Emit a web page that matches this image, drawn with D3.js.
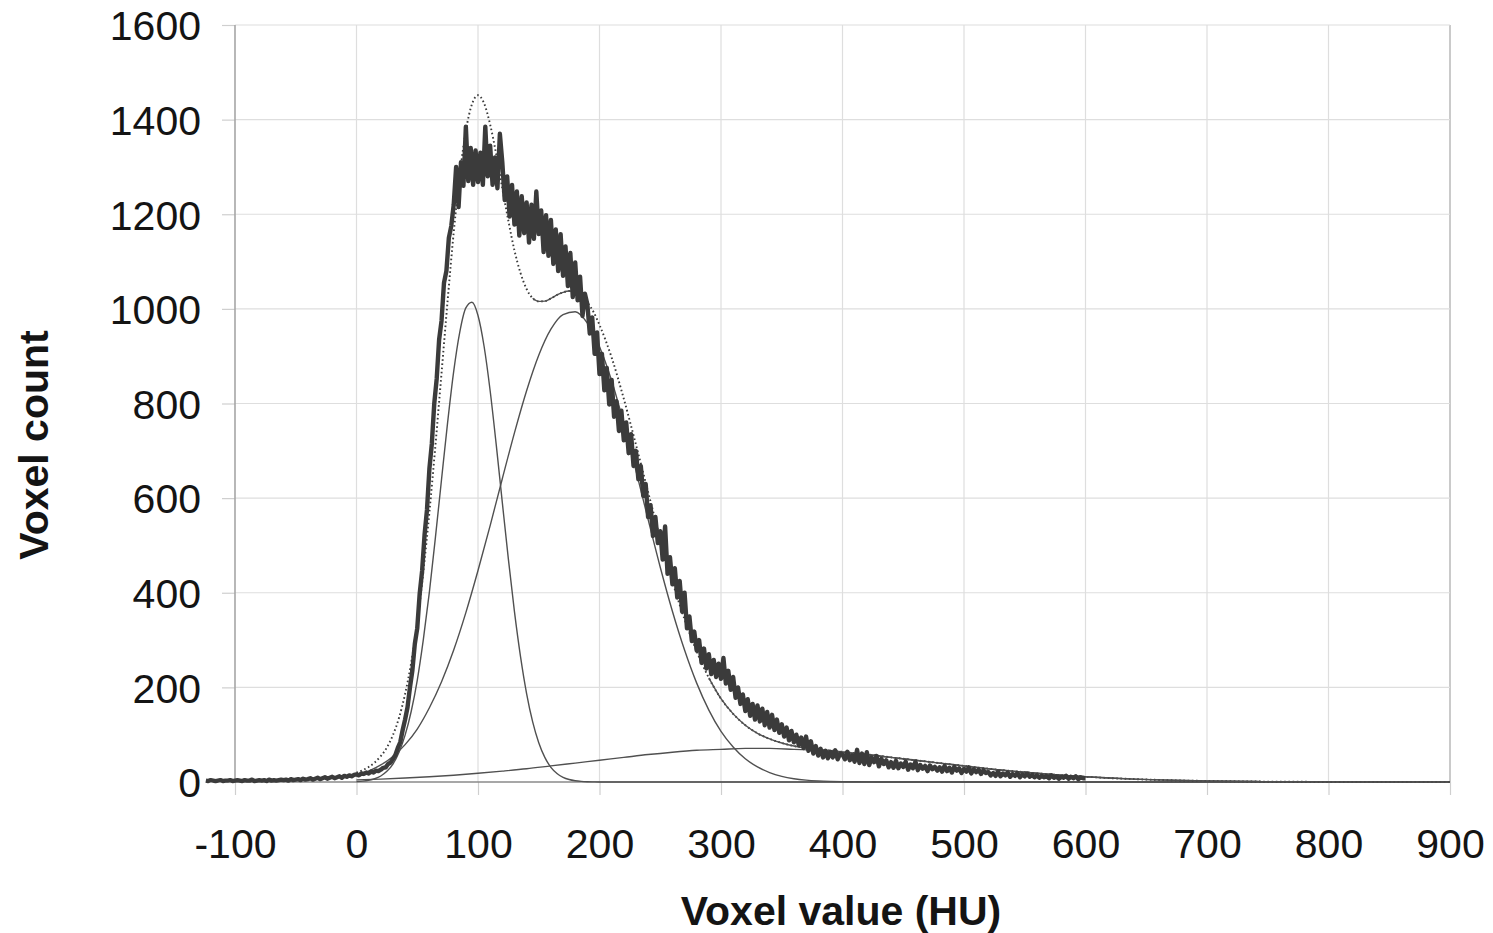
<!DOCTYPE html>
<html>
<head>
<meta charset="utf-8">
<script src="https://cdn.jsdelivr.net/npm/d3@7"></script>
<style>
  body { margin: 0; background: #fff; }
  svg text { font-family: "Liberation Sans", Arial, sans-serif; fill: #141414; }
</style>
</head>
<body>
<svg id="chart" width="1493" height="933"></svg>
<script>
// axis ticks
const xTicks = [-100, 0, 100, 200, 300, 400, 500, 600, 700, 800, 900];
const yTicks = [0, 200, 400, 600, 800, 1000, 1200, 1400, 1600];

// measured histogram: one count every 2 HU, starting at -124 HU
const histStart = -124;
const histStep = 2;
const histCounts = [
  3,2,4,3,2,3,4,2,3,3,4,2,3,4,3,2,4,3,3,5,2,3,4,3,4,2,5,3,4,3,4,5,
  4,5,3,6,4,5,6,4,7,5,6,8,5,7,9,6,8,10,7,9,11,8,10,12,9,13,11,14,12,15,
  16,14,18,17,20,18,22,20,24,23,26,30,31,38,41,49,57,72,84,110,
  132,158,200,236,292,325,398,446,522,575,662,715,800,852,935,975,1055,1080,1150,1175,
  1220,1300,1215,1310,1260,1385,1270,1340,1262,1335,1268,1330,1262,1385,1280,1345,1262,1320,1255,1370,
  1310,1230,1280,1195,1262,1178,1248,1155,1238,1160,1225,1140,1220,1148,1248,1158,1208,1120,1198,1112,
  1188,1095,1168,1080,1158,1070,1132,1048,1118,1025,1098,1018,1068,985,1032,1010,948,982,905,950,
  862,905,828,875,798,850,772,805,742,785,722,760,695,735,668,700,640,668,605,630,
  560,585,520,560,505,530,470,540,440,475,418,452,390,425,360,400,325,350,298,318,
  278,300,252,282,240,270,228,258,222,250,218,262,208,235,195,222,178,200,165,185,
  150,175,140,165,132,162,128,155,120,148,115,142,110,132,104,122,96,115,88,108,
  84,100,78,94,72,96,66,86,60,76,56,70,52,66,50,64,52,67,48,60,
  58,48,64,46,56,43,68,40,60,38,63,36,52,42,55,33,49,38,46,31,
  42,30,45,29,39,32,43,26,37,29,43,25,36,28,34,23,35,27,32,24,
  31,22,34,23,30,20,32,24,29,19,28,22,31,18,27,21,26,17,25,19,
  21,14,19,13,22,12,18,14,20,11,17,13,19,10,16,12,18,11,15,10,
  14,9,13,10,12,8,14,9,12,7,11,9,13,7,11,8,12,6,10,8,8
];

// narrow component
const narrowHU = [0,5,10,15,20,25,30,35,40,45,50,55,60,65,70,75,80,85,90,95,100,
  105,110,115,120,125,130,135,140,145,150,155,160,165,170,175,180,185,190,195,200,300,900];
const narrowCounts = [0.9,1.8,3.6,6.9,12.7,22.5,38,63,99,149,215,301,402,518,640,760,868,951,1002,1014,986,
  921,827,713,591,471,360,265,187,127,83,52,31,18,10,5.3,2.7,1.3,0.6,0.3,0.1,0,0];

// wide component
const wideHU = [0,10,20,30,40,50,60,70,80,90,100,110,120,130,140,150,160,170,180,190,200,
  210,220,230,240,250,260,270,280,290,300,310,320,330,340,350,360,370,380,390,400,410,420,430,440,500,900];
const wideCounts = [14.4,23,36,54,79,112,157,212,279,358,447,542,641,738,827,902,957,988,994,970,920,
  848,758,658,555,454,361,279,209,152,107,74,49,32,20,12,7,4,2.3,1.3,0.7,0.4,0.2,0.1,0,0,0];

// broad low component
const broadHU = [0,20,40,60,80,100,120,140,160,180,200,220,240,260,280,300,320,340,360,380,400,
  420,440,460,480,500,520,540,560,580,600,620,640,660,680,700,720,740,760,780,800,820,840,860,880,900];
const broadCounts = [4.4,6.1,8.3,11.1,14.4,18.4,23,28,34,40,46,52,58,63,67,69,71,71,69,67,63,
  58,52,46,40,34,28,23,18.4,14.4,11.1,8.3,6.1,4.4,3.1,2.2,1.5,1.0,0.6,0.4,0.25,0.15,0.1,0.05,0.03,0.02];

// sum of the three components (dotted)
const sumHU = [0,5,10,15,20,25,30,35,40,45,50,55,60,65,70,75,80,85,90,95,100,
  105,110,115,120,125,130,135,140,145,150,155,160,165,170,175,180,185,190,195,200,
  210,220,230,240,250,260,270,280,290,300,310,320,330,340,350,360,370,380,390,400,410,420,430,440,
  460,480,500,520,540,560,580,600,620,640,660,680,700,720,740,760,780,800,820,840,860,880,900];
const sumCounts = [19.7,24.9,31.8,41.3,54.8,72.9,99.2,135.8,186.3,251.9,336.6,444.3,570.1,712.9,864.7,1017.5,1161.4,1283.3,1376.3,1432.3,1451.4,
  1434.5,1389.6,1326.8,1255,1186.2,1123.5,1075.8,1042,1022.4,1015.8,1016.3,1022,1029.4,1034.9,1037.7,1036.7,1028.9,1013.7,993.9,966,
  897,810,713,613,514.5,424,344,276,220,176,144,120,103,91,82.5,76,72,69.3,66.3,63.7,60.9,58.2,55.2,52,
  46,40,34,28,23,18.4,14.4,11.1,8.3,6.1,4.4,3.1,2.2,1.5,1.0,0.6,0.4,0.25,0.15,0.1,0.05,0.03,0.02];
// where the dotted sum looks solid (flat stretches)
const sumSolidRanges = [[145, 190], [285, 900]];

const width = 1493;
const height = 933;
const margins = { top: 25, right: 43, bottom: 151, left: 235 };

const svg = d3.select("#chart");
svg.append("rect").attr("width", width).attr("height", height).attr("fill", "#fff");

const x = d3.scaleLinear().domain([-100, 900]).range([margins.left, width - margins.right]);
const y = d3.scaleLinear().domain([0, 1600]).range([height - margins.bottom, margins.top]);

// grid
const grid = svg.append("g");
grid.selectAll(".vgrid")
  .data(xTicks.filter(d => d !== -100))
  .join("line")
  .attr("x1", d => x(d)).attr("x2", d => x(d))
  .attr("y1", y(1600)).attr("y2", y(0))
  .attr("stroke", d => d === 900 ? "#bdbdbd" : "#dedede")
  .attr("stroke-width", d => d === 900 ? 1.6 : 1.2);
grid.selectAll(".hgrid")
  .data(yTicks.filter(d => d !== 0))
  .join("line")
  .attr("x1", x(-100)).attr("x2", x(900))
  .attr("y1", d => y(d)).attr("y2", d => y(d))
  .attr("stroke", "#dedede")
  .attr("stroke-width", 1.2);

// axes
const plainFormat = d => String(d);

const xAxis = svg.append("g")
  .attr("transform", `translate(0,${y(0)})`)
  .call(d3.axisBottom(x).tickValues(xTicks).tickFormat(plainFormat).tickSize(13).tickSizeOuter(0));
xAxis.select(".domain").remove();
xAxis.selectAll(".tick line").attr("stroke", "#cfcfcf").attr("stroke-width", 1.2);
xAxis.selectAll(".tick text")
  .attr("y", 76).attr("dy", null)
  .style("font-size", "41px");

const yAxis = svg.append("g")
  .attr("transform", `translate(${x(-100)},0)`)
  .call(d3.axisLeft(y).tickValues(yTicks).tickFormat(plainFormat).tickSize(13).tickSizeOuter(0));
yAxis.select(".domain").remove();
yAxis.selectAll(".tick line").attr("stroke", "#cfcfcf").attr("stroke-width", 1.2);
yAxis.selectAll(".tick text")
  .attr("x", -34).attr("dy", "0.36em")
  .style("font-size", "41px");

svg.append("line")
  .attr("x1", x(-100)).attr("x2", x(-100))
  .attr("y1", y(1600)).attr("y2", y(0))
  .attr("stroke", "#a6a6a6").attr("stroke-width", 1.6);
svg.append("line")
  .attr("x1", x(-100)).attr("x2", x(900))
  .attr("y1", y(0)).attr("y2", y(0))
  .attr("stroke", "#8a8a8a").attr("stroke-width", 1.6);

// lines
const line = d3.line()
  .x(d => x(d[0]))
  .y(d => y(d[1]));
const smooth = d3.line()
  .x(d => x(d[0]))
  .y(d => y(d[1]))
  .curve(d3.curveMonotoneX);

const plot = svg.append("g");

[[narrowHU, narrowCounts], [wideHU, wideCounts], [broadHU, broadCounts]].forEach(([hu, counts]) => {
  plot.append("path")
    .datum(d3.zip(hu, counts))
    .attr("d", smooth)
    .attr("fill", "none")
    .attr("stroke", "#505050")
    .attr("stroke-width", 1.4);
});

const sumPoints = d3.zip(sumHU, sumCounts);
plot.append("path")
  .datum(sumPoints)
  .attr("d", smooth)
  .attr("fill", "none")
  .attr("stroke", "#3a3a3a")
  .attr("stroke-width", 1.9)
  .attr("stroke-dasharray", "1.6,2.6");
sumSolidRanges.forEach(([lo, hi]) => {
  plot.append("path")
    .datum(sumPoints.filter(d => d[0] >= lo && d[0] <= hi))
    .attr("d", smooth)
    .attr("fill", "none")
    .attr("stroke", "#505050")
    .attr("stroke-width", 1.4);
});

const histPoints = histCounts.map((c, i) => [histStart + i * histStep, c]);
plot.append("path")
  .datum(histPoints)
  .attr("d", line)
  .attr("fill", "none")
  .attr("stroke", "#3b3b3b")
  .attr("stroke-width", 4.4)
  .attr("stroke-linejoin", "round");

// axis titles
svg.append("text")
  .attr("x", 841)
  .attr("y", 925)
  .attr("text-anchor", "middle")
  .style("font-size", "41px")
  .style("font-weight", "bold")
  .text("Voxel value (HU)");

svg.append("text")
  .attr("transform", "translate(48,445) rotate(-90)")
  .attr("text-anchor", "middle")
  .style("font-size", "41px")
  .style("font-weight", "bold")
  .text("Voxel count");
</script>
</body>
</html>
